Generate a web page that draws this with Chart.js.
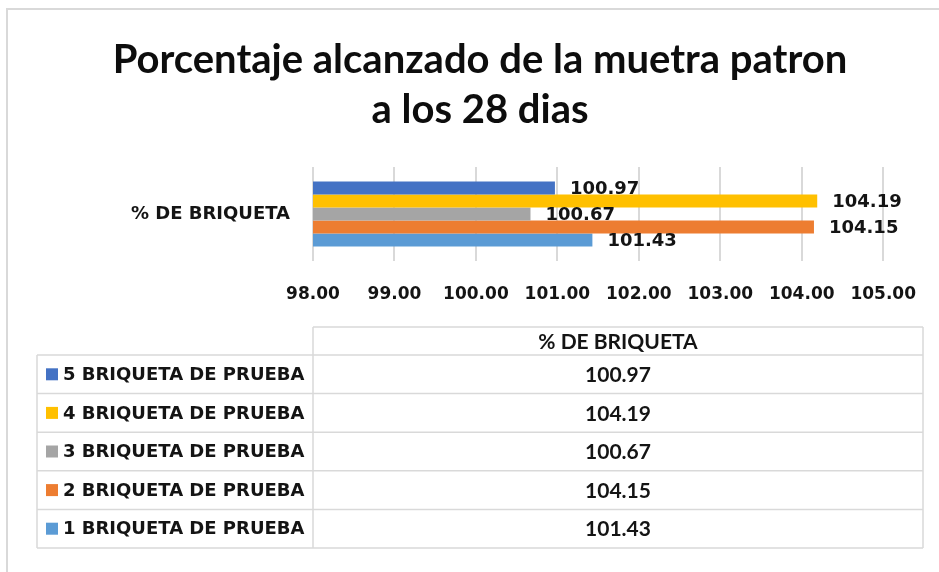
<!DOCTYPE html>
<html>
<head>
<meta charset="utf-8">
<script src="https://cdn.jsdelivr.net/npm/chart.js@4.4.1/dist/chart.umd.min.js"></script>
<style>
  html, body { margin: 0; padding: 0; background: #ffffff; }
  body { width: 939px; height: 572px; position: relative; overflow: hidden; }
  #frame { position: absolute; left: 6px; top: 8px; width: 1000px; height: 1000px;
           border-top: 2px solid #d9d9d9; border-left: 2px solid #d9d9d9; box-sizing: border-box; }
  #wrap { position: absolute; left: 0; top: 0; width: 939px; height: 572px; }
</style>
</head>
<body>
<div id="frame"></div>
<div id="wrap"><canvas id="c" width="939" height="572"></canvas></div>
<script>
// ---- data ----
const titleLines = ['Porcentaje alcanzado de la muetra patron', 'a los 28 dias'];
const categories = ['% DE BRIQUETA'];
const seriesNames = ['5 BRIQUETA DE PRUEBA', '4 BRIQUETA DE PRUEBA', '3 BRIQUETA DE PRUEBA', '2 BRIQUETA DE PRUEBA', '1 BRIQUETA DE PRUEBA'];
const seriesValues = [100.97, 104.19, 100.67, 104.15, 101.43];
const seriesColors = ['#4472C4', '#FFC000', '#A5A5A5', '#ED7D31', '#5B9BD5'];
const xMin = 98, xMax = 105, xStep = 1;

const labelFont = 'bold 18px "DejaVu Sans", sans-serif';
const tableFont = 'bold 21px Lato, sans-serif';
const textColor = '#141414';
const lineColor = '#d9d9d9';

const valueLabels = {
  id: 'valueLabels',
  afterDatasetsDraw(chart) {
    const ctx = chart.ctx;
    ctx.save();
    ctx.font = labelFont;
    ctx.fillStyle = textColor;
    ctx.textAlign = 'left';
    ctx.textBaseline = 'middle';
    chart.data.datasets.forEach((ds, i) => {
      const meta = chart.getDatasetMeta(i);
      meta.data.forEach((bar, j) => {
        ctx.fillText(ds.data[j].toFixed(2), bar.x + 15, bar.y + 1.5);
      });
    });
    ctx.restore();
  }
};

const dataTable = {
  id: 'dataTable',
  afterDraw(chart) {
    const ctx = chart.ctx;
    const colX = chart.chartArea.left;
    const left = 37, right = 923, headTop = 327, rowTop = 355, rowH = 38.6;
    const n = chart.data.datasets.length;
    const bottom = rowTop + n * rowH;
    ctx.save();
    ctx.strokeStyle = lineColor;
    ctx.lineWidth = 1.5;
    ctx.beginPath();
    ctx.moveTo(colX, headTop); ctx.lineTo(right, headTop);
    ctx.moveTo(colX, headTop); ctx.lineTo(colX, bottom);
    ctx.moveTo(right, headTop); ctx.lineTo(right, bottom);
    ctx.moveTo(left, rowTop); ctx.lineTo(left, bottom);
    for (let r = 0; r <= n; r++) {
      const y = rowTop + r * rowH;
      ctx.moveTo(left, y); ctx.lineTo(right, y);
    }
    ctx.stroke();
    ctx.textBaseline = 'middle';
    ctx.fillStyle = textColor;
    ctx.font = tableFont;
    ctx.textAlign = 'center';
    const midX = (colX + right) / 2;
    ctx.fillText(chart.data.labels[0], midX, (headTop + rowTop) / 2 + 1);
    chart.data.datasets.forEach((ds, i) => {
      const cy = rowTop + i * rowH + rowH / 2;
      ctx.fillStyle = ds.backgroundColor;
      ctx.fillRect(46, cy - 6, 12, 12);
      ctx.fillStyle = textColor;
      ctx.font = labelFont;
      ctx.textAlign = 'left';
      ctx.fillText(ds.label, 63, cy + 1);
      ctx.font = tableFont;
      ctx.textAlign = 'center';
      ctx.fillText(ds.data[0].toFixed(2), midX, cy + 1);
    });
    ctx.restore();
  }
};

const chart = new Chart(document.getElementById('c'), {
  type: 'bar',
  data: {
    labels: categories,
    datasets: seriesNames.map((name, i) => ({
      label: name,
      data: [seriesValues[i]],
      backgroundColor: seriesColors[i],
      borderWidth: 0
    }))
  },
  options: {
    indexAxis: 'y',
    responsive: false,
    animation: false,
    layout: { padding: { left: 71, right: 50, top: 0, bottom: 267 } },
    categoryPercentage: 0.69,
    barPercentage: 1.0,
    plugins: {
      legend: { display: false },
      tooltip: { enabled: false },
      title: {
        display: true,
        text: titleLines,
        color: '#0d0d0d',
        font: { family: 'Lato, sans-serif', size: 40, weight: 'bold', lineHeight: 1.25 },
        padding: { top: 35, bottom: 32 }
      }
    },
    scales: {
      x: {
        min: xMin, max: xMax,
        grid: { color: lineColor, lineWidth: 2, drawTicks: false },
        border: { display: false },
        ticks: {
          stepSize: xStep,
          padding: 23,
          color: textColor,
          font: { family: '"DejaVu Sans", sans-serif', size: 17, weight: 'bold' },
          callback: v => Number(v).toFixed(2),
          maxRotation: 0
        },
        afterFit(scale) { scale.height = 44; }
      },
      y: {
        grid: { display: false, drawTicks: false },
        border: { display: false },
        ticks: {
          padding: 23,
          color: textColor,
          font: { family: '"DejaVu Sans", sans-serif', size: 18, weight: 'bold' }
        },
        afterFit(scale) { scale.width = 242; }
      }
    }
  },
  plugins: [valueLabels, dataTable]
});
</script>
</body>
</html>
